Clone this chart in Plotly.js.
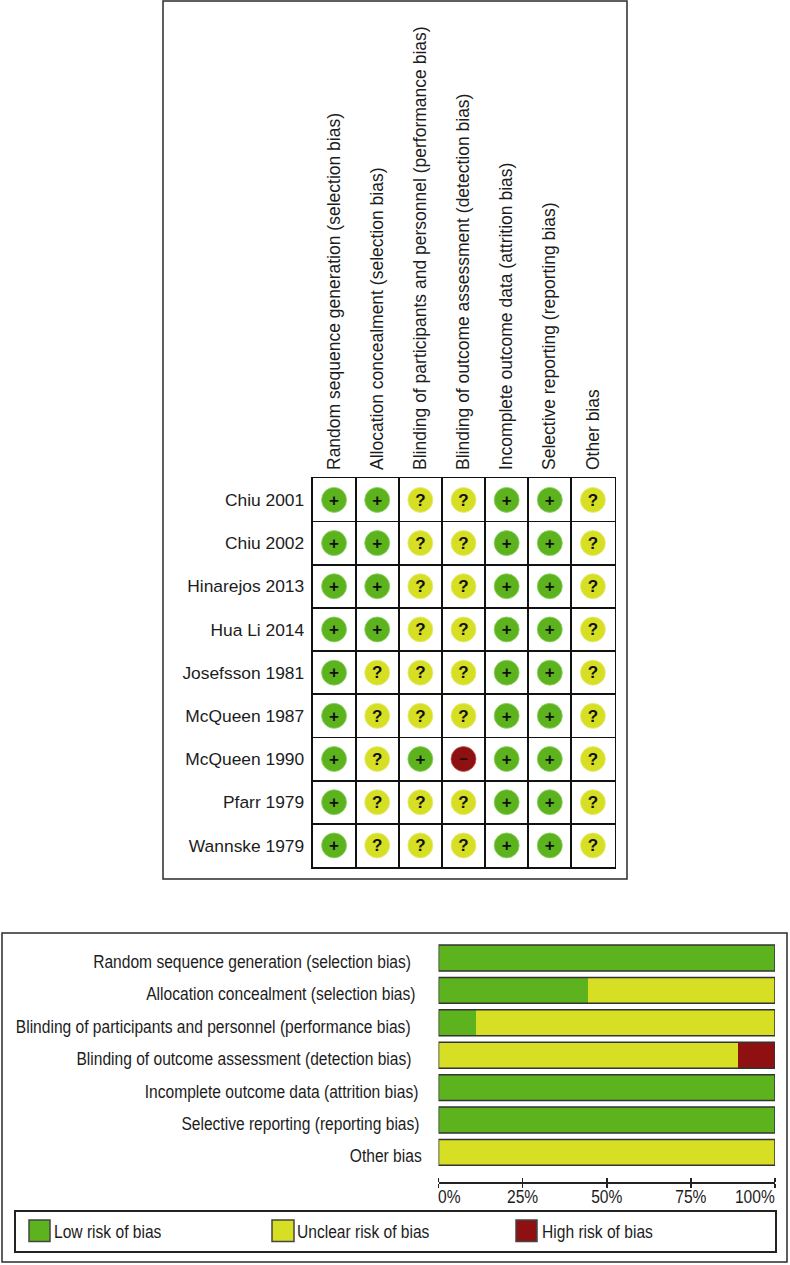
<!DOCTYPE html>
<html><head><meta charset="utf-8">
<script src="https://cdn.plot.ly/plotly-3.0.1.min.js"></script>
<style>html,body{margin:0;padding:0;background:#fff}</style></head>
<body><div id="chart" style="width:790px;height:1265px"></div>
<script>
const domains = ["Random sequence generation (selection bias)","Allocation concealment (selection bias)","Blinding of participants and personnel (performance bias)","Blinding of outcome assessment (detection bias)","Incomplete outcome data (attrition bias)","Selective reporting (reporting bias)","Other bias"];
const studies = ["Chiu 2001","Chiu 2002","Hinarejos 2013","Hua Li 2014","Josefsson 1981","McQueen 1987","McQueen 1990","Pfarr 1979","Wannske 1979"];
// L low, U unclear, H high
const ratings = ["LLUULLU","LLUULLU","LLUULLU","LLUULLU","LUUULLU","LUUULLU","LULHLLU","LUUULLU","LUUULLU"];
const lowPct     = [100,44.4,11.1,0,100,100,0];
const unclearPct = [0,55.6,88.9,88.9,0,0,100];
const highPct    = [0,0,0,11.1,0,0,0];
const axisTicks  = [0,25,50,75,100];
const axisLabels = ["","25%","50%","75%",""];
const levels = [
  {key:"L",name:"Low risk of bias",color:"#5CB31D",edge:"#8fd36a",sym:"+",pct:lowPct},
  {key:"U",name:"Unclear risk of bias",color:"#D6DF24",edge:"#e6ec80",sym:"?",pct:unclearPct},
  {key:"H",name:"High risk of bias",color:"#8F1010",edge:"#b86060",sym:"\u2212",pct:highPct}
];
const W=790,H=1265;
const px=x=>x/W, py=y=>1-y/H;
const ink="#1c1c1c";
const FONT='"Liberation Sans", Arial, sans-serif';

const traces=[];
levels.forEach(l=>{
  const xs=[],ys=[],ts=[];
  ratings.forEach((r,i)=>[...r].forEach((c,j)=>{ if(c===l.key){xs.push(domains[j]);ys.push(studies[i]);ts.push(l.sym);} }));
  traces.push({type:"scatter",mode:"markers+text",x:xs,y:ys,text:ts,textposition:"middle center",
    textfont:{family:FONT,size:l.key==="H"?15:17,color:"#111",weight:700},cliponaxis:false,
    marker:{size:25,color:l.color,line:{color:l.edge,width:0.8}},xaxis:"x",yaxis:"y",showlegend:false,hoverinfo:"x+y"});
});
levels.forEach(l=>{
  traces.push({type:"bar",orientation:"h",name:l.name,x:l.pct,y:domains,xaxis:"x2",yaxis:"y2",
    width:0.8,marker:{color:l.color,line:{width:0}},showlegend:false});
});
// invisible trace keeps the upper overlay axis alive
traces.push({type:"scatter",mode:"none",x:axisTicks,y:axisTicks.map(()=>domains[0]),xaxis:"x3",yaxis:"y2",showlegend:false,hoverinfo:"skip"});

const shapes=[];
const paperRect=(x0,y0,x1,y1,o)=>Object.assign({type:"rect",xref:"paper",yref:"paper",x0:px(x0),x1:px(x1),y0:py(y1),y1:py(y0),line:{color:"#2b2b2b",width:1.5}},o||{});
shapes.push(paperRect(163,1,627,879));
shapes.push(paperRect(2,933,787,1262));
shapes.push(paperRect(15,1211,776,1252,{line:{color:"#222",width:2}}));
domains.forEach((d,i)=>shapes.push({type:"rect",xref:"x2",yref:"y2",x0:0,x1:100,y0:i-0.4,y1:i+0.4,line:{color:"#333",width:1.5},layer:"above"}));
const legendX=[[29,50,54],[272,294,297],[516,537,541.5]];
const annotations=[];
const CONDENSED=0.89;
levels.forEach((l,i)=>{
  const p=legendX[i];
  shapes.push(paperRect(p[0],1220,p[1],1241.5,{fillcolor:l.color,line:{color:"#444",width:1.5}}));
  annotations.push({xref:"paper",yref:"paper",x:px(p[2]),y:py(1232),text:l.name,showarrow:false,xanchor:"left",yanchor:"middle",
    font:{family:FONT,size:17.5,color:ink},borderpad:0,borderwidth:0});
});
const labelRight=[410.5,416,410.5,410.5,417.5,419.5,422.5];
domains.forEach((d,i)=>annotations.push({xref:"paper",yref:"y2",x:px(labelRight[i]),y:d,yshift:-4,text:d,showarrow:false,xanchor:"right",yanchor:"middle",
  font:{family:FONT,size:17.5,color:ink},borderpad:0,borderwidth:0}));
annotations.push({xref:"x2",yref:"paper",x:0,y:py(1197),text:"0%",showarrow:false,xanchor:"left",yanchor:"middle",font:{family:FONT,size:17.5,color:ink},borderpad:0,borderwidth:0});
annotations.push({xref:"x2",yref:"paper",x:100,y:py(1197),text:"100%",showarrow:false,xanchor:"right",yanchor:"middle",font:{family:FONT,size:17.5,color:ink},borderpad:0,borderwidth:0});

const layout={width:W,height:H,margin:{l:0,r:0,t:0,b:0},paper_bgcolor:"#fff",plot_bgcolor:"#fff",showlegend:false,barmode:"stack",bargap:0.2,
  font:{family:FONT,color:ink},
  xaxis:{domain:[px(312.5),px(614.5)],anchor:"y",type:"category",categoryorder:"array",categoryarray:domains,range:[-0.5,6.5],side:"top",tickangle:-90,tickson:"boundaries",
    showgrid:true,gridcolor:"#111",gridwidth:1.8,showline:true,mirror:true,linecolor:"#111",linewidth:1.8,zeroline:false,
    ticks:"outside",ticklen:6,tickcolor:"rgba(0,0,0,0)",ticklabelstandoff:3,tickfont:{family:FONT,size:17.5,color:ink}},
  yaxis:{domain:[py(867),py(478.3)],anchor:"x",type:"category",categoryorder:"array",categoryarray:studies,range:[8.5,-0.5],tickson:"boundaries",
    showgrid:true,gridcolor:"#111",gridwidth:1.8,showline:true,mirror:true,linecolor:"#111",linewidth:1.8,zeroline:false,
    ticks:"outside",ticklen:6,tickcolor:"rgba(0,0,0,0)",ticklabelstandoff:3,tickfont:{family:FONT,size:17.4,color:ink}},
  xaxis2:{domain:[px(438.5),px(775)],anchor:"free",position:py(1182),range:[0,100],tickmode:"array",tickvals:axisTicks,ticktext:axisLabels,
    ticks:"outside",ticklen:4,tickwidth:1.5,tickcolor:"#222",showline:true,linecolor:"#222",linewidth:1.5,showgrid:false,zeroline:false,
    ticklabelstandoff:-6,tickfont:{family:FONT,size:17.5,color:ink}},
  xaxis3:{domain:[px(438.5),px(775)],anchor:"free",position:py(1182),overlaying:"x2",side:"top",range:[0,100],tickmode:"array",tickvals:axisTicks,showticklabels:false,
    ticks:"outside",ticklen:4,tickwidth:1.5,tickcolor:"#222",showline:false,showgrid:false,zeroline:false},
  yaxis2:{domain:[py(1168.6),py(941.8)],anchor:"x2",type:"category",categoryorder:"array",categoryarray:domains,autorange:"reversed",showticklabels:false,ticks:"",showline:false,showgrid:false,zeroline:false},
  shapes,annotations};

// the lower panel of the reference is horizontally condensed: narrow its text in place
function condense(gd){
  const rightAligned=new Set([...domains,"100%"]);
  const leftAligned=new Set([...levels.map(l=>l.name),"0%"]);
  gd.querySelectorAll(".annotation-text, .x2tick text").forEach(t=>{
    const w=t.getComputedTextLength(), n=w*CONDENSED, s=t.textContent;
    t.setAttribute("textLength",n.toFixed(1));
    t.setAttribute("lengthAdjust","spacingAndGlyphs");
    if(rightAligned.has(s)) t.setAttribute("dx",((w-n)/2).toFixed(1));
    if(leftAligned.has(s)) t.setAttribute("dx",(-(w-n)/2).toFixed(1));
  });
  gd.querySelectorAll(".textpoint text").forEach(t=>t.setAttribute("dy","1.5"));
}
Plotly.newPlot("chart",traces,layout,{displayModeBar:false,staticPlot:true}).then(condense);
</script></body></html>
